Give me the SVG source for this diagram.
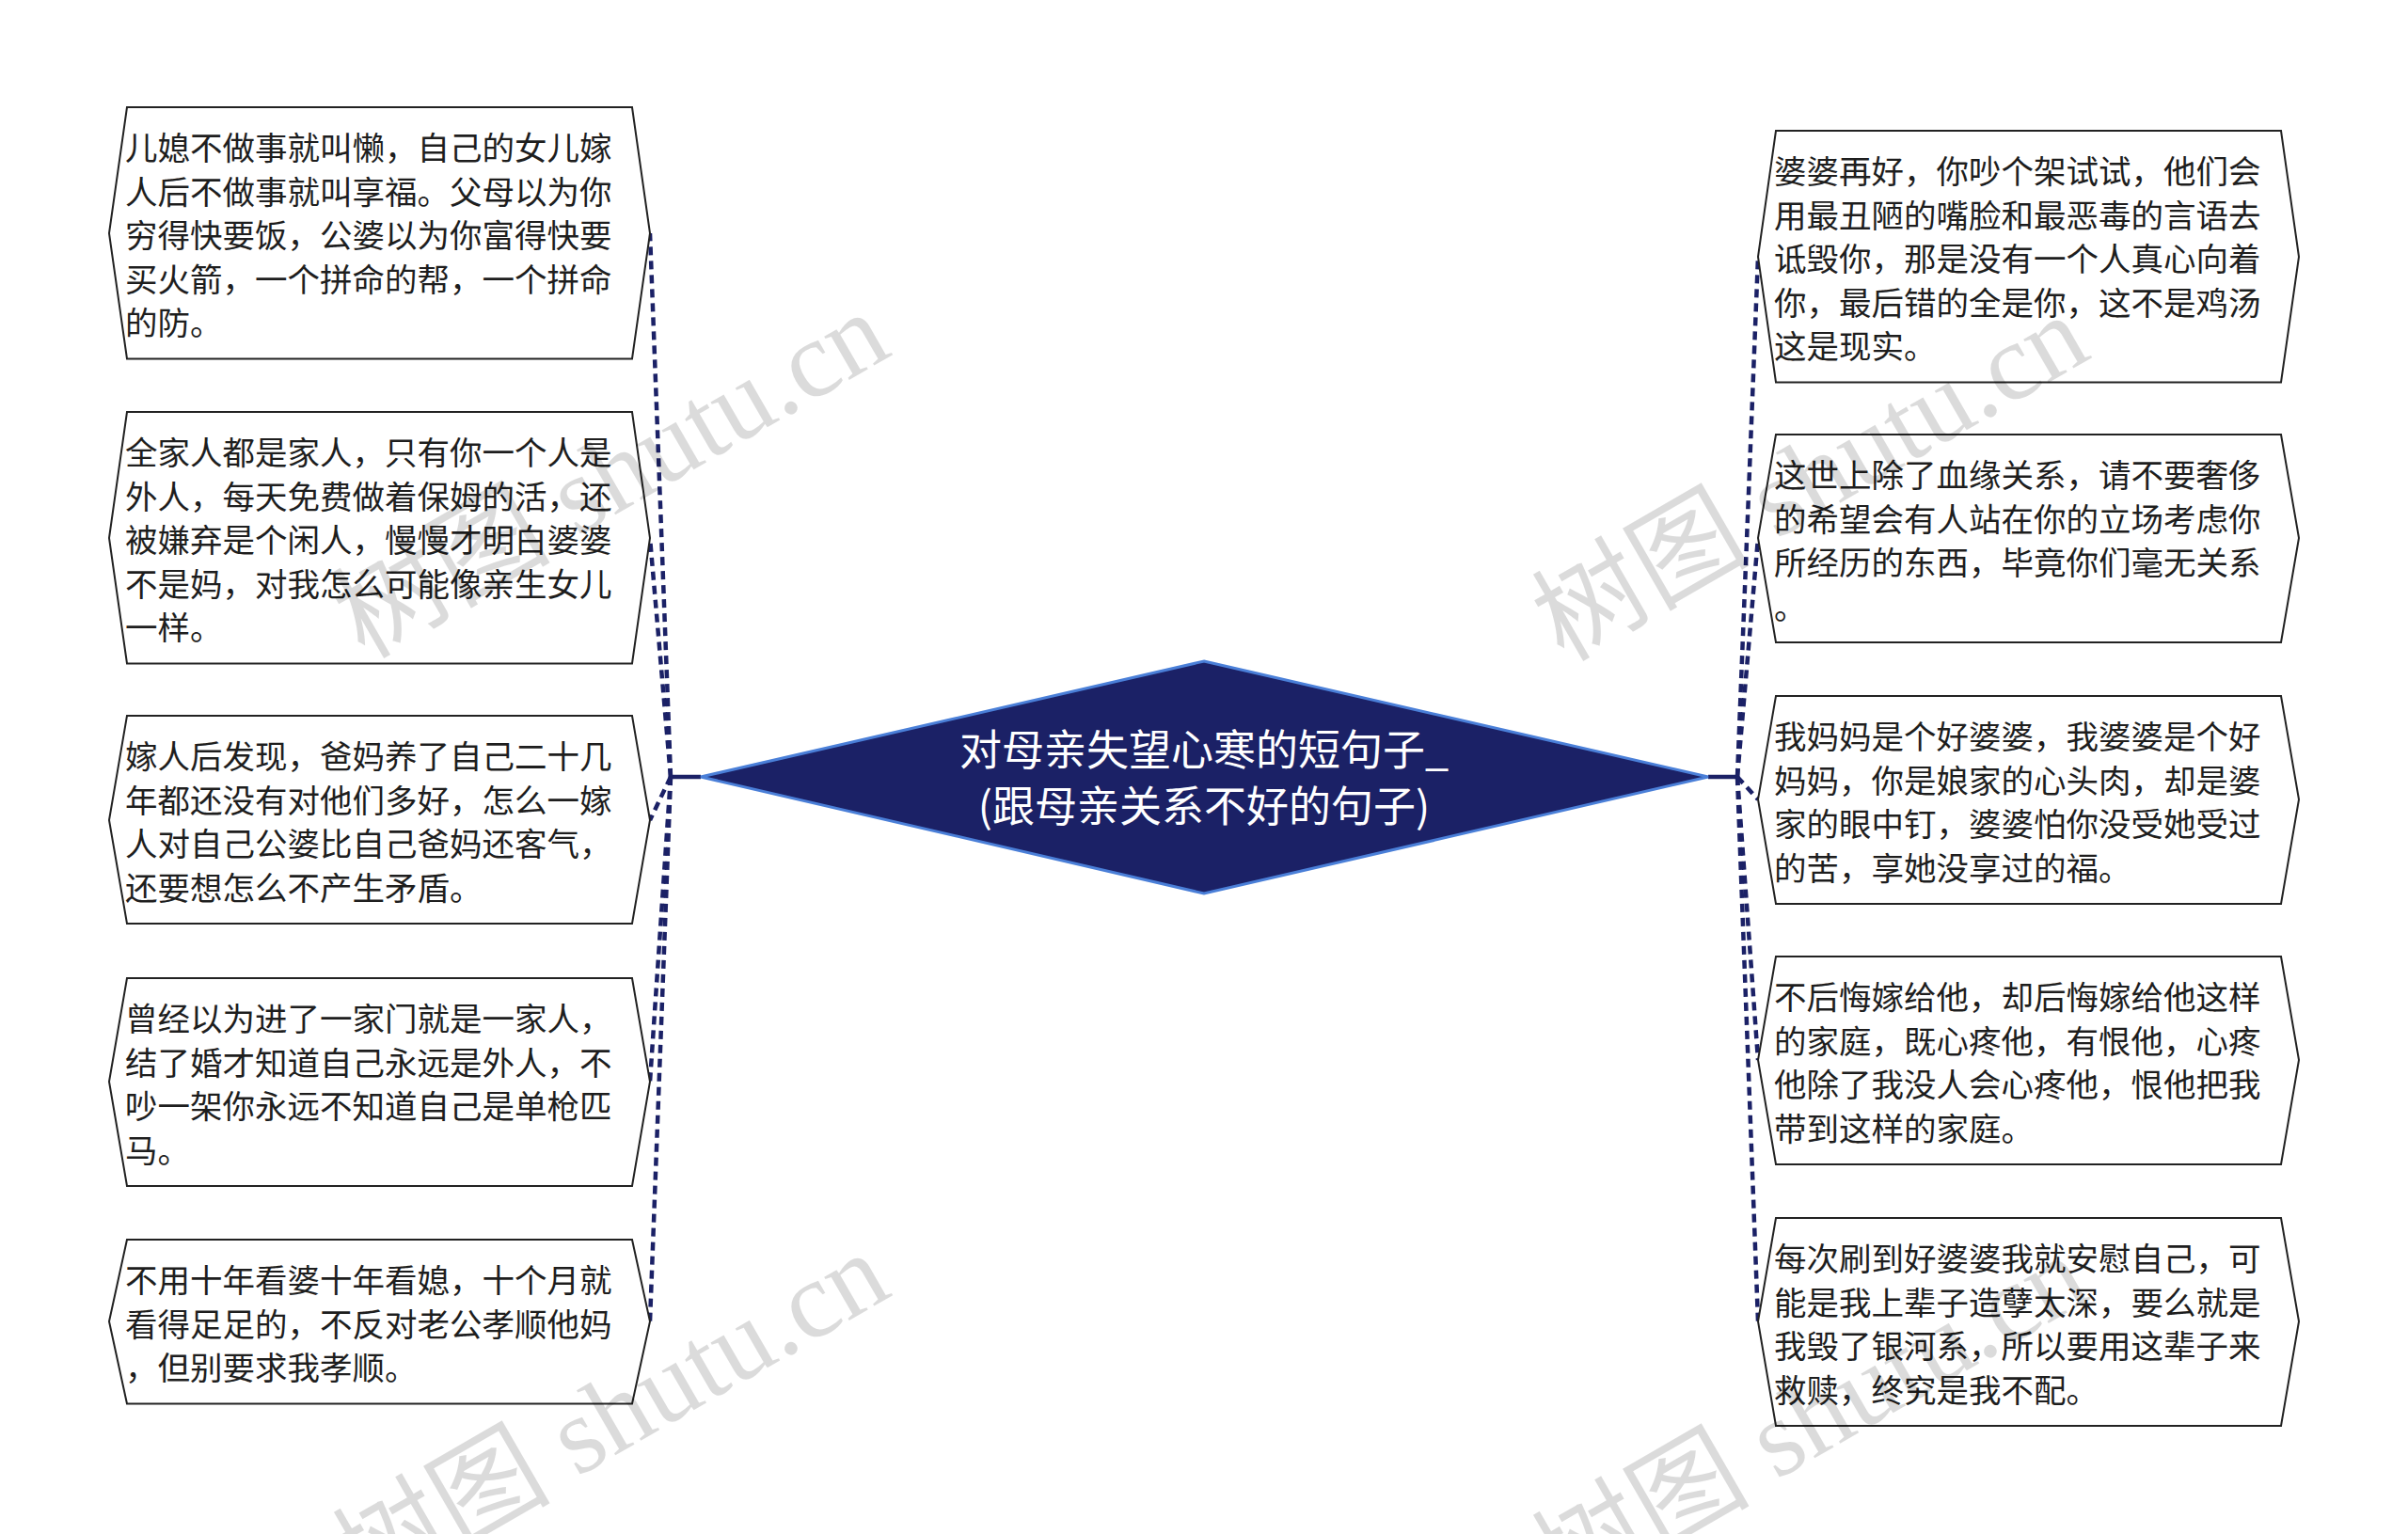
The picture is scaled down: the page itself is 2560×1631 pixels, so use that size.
<svg xmlns="http://www.w3.org/2000/svg" width="2560" height="1631" viewBox="0 0 2560 1631">
<style>
.node polygon{fill:#ffffff;stroke:#222222;stroke-width:2}
.t{font-family:"Noto Sans CJK SC","Noto Sans",sans-serif;font-size:34.5px;fill:#1e1e1e}
.title{font-family:"Noto Sans CJK SC","Noto Sans",sans-serif;font-size:45px;fill:#ffffff;text-anchor:middle}
.link{fill:none;stroke:#1b2166;stroke-width:4.5;stroke-dasharray:9 6}
.stub{fill:none;stroke:#1b2166;stroke-width:4.5}
.wm{font-family:"Liberation Serif","Noto Sans CJK SC",serif;font-size:116px;fill:#000000;fill-opacity:0.14;text-anchor:middle}
</style>
<rect width="2560" height="1631" fill="#ffffff"/>
<g id="connectors">
<path class="stub" d="M745 826 H713"/>
<path class="stub" d="M1816 826 H1847"/>
<path class="link" d="M713 826 L691 248"/>
<path class="link" d="M713 826 L691 572"/>
<path class="link" d="M713 826 L691 872"/>
<path class="link" d="M713 826 L691 1150"/>
<path class="link" d="M713 826 L691 1405"/>
<path class="link" d="M1847 826 L1869 273"/>
<path class="link" d="M1847 826 L1869 572"/>
<path class="link" d="M1847 826 L1869 850"/>
<path class="link" d="M1847 826 L1869 1127"/>
<path class="link" d="M1847 826 L1869 1405"/>
</g>
<g id="center">
<polygon points="1280,703 1816,826 1280,950 745,826" fill="#1b2166" stroke="#4a7fd8" stroke-width="3"/>
<text class="title"><tspan x="1280" y="814">对母亲失望心寒的短句子_</tspan><tspan x="1280" y="874">(跟母亲关系不好的句子)</tspan></text>
</g>
<g id="L1" class="node">
<polygon points="135,114 672,114 691,248 672,381.5 135,381.5 116,248"/>
<text class="t"><tspan x="133" y="170">儿媳不做事就叫懒，自己的女儿嫁</tspan><tspan x="133" y="216.5">人后不做事就叫享福。父母以为你</tspan><tspan x="133" y="263">穷得快要饭，公婆以为你富得快要</tspan><tspan x="133" y="309.5">买火箭，一个拼命的帮，一个拼命</tspan><tspan x="133" y="356">的防。</tspan></text>
</g>
<g id="L2" class="node">
<polygon points="135,438 672,438 691,572 672,705.5 135,705.5 116,572"/>
<text class="t"><tspan x="133" y="494">全家人都是家人，只有你一个人是</tspan><tspan x="133" y="540.5">外人，每天免费做着保姆的活，还</tspan><tspan x="133" y="587">被嫌弃是个闲人，慢慢才明白婆婆</tspan><tspan x="133" y="633.5">不是妈，对我怎么可能像亲生女儿</tspan><tspan x="133" y="680">一样。</tspan></text>
</g>
<g id="L3" class="node">
<polygon points="135,761 672,761 691,872 672,982 135,982 116,872"/>
<text class="t"><tspan x="133" y="817">嫁人后发现，爸妈养了自己二十几</tspan><tspan x="133" y="863.5">年都还没有对他们多好，怎么一嫁</tspan><tspan x="133" y="910">人对自己公婆比自己爸妈还客气，</tspan><tspan x="133" y="956.5">还要想怎么不产生矛盾。</tspan></text>
</g>
<g id="L4" class="node">
<polygon points="135,1040 672,1040 691,1150 672,1261 135,1261 116,1150"/>
<text class="t"><tspan x="133" y="1096">曾经以为进了一家门就是一家人，</tspan><tspan x="133" y="1142.5">结了婚才知道自己永远是外人，不</tspan><tspan x="133" y="1189">吵一架你永远不知道自己是单枪匹</tspan><tspan x="133" y="1235.5">马。</tspan></text>
</g>
<g id="L5" class="node">
<polygon points="135,1318 672,1318 691,1405 672,1492.5 135,1492.5 116,1405"/>
<text class="t"><tspan x="133" y="1374">不用十年看婆十年看媳，十个月就</tspan><tspan x="133" y="1420.5">看得足足的，不反对老公孝顺他妈</tspan><tspan x="133" y="1467">，但别要求我孝顺。</tspan></text>
</g>
<g id="R1" class="node">
<polygon points="1888,139 2425,139 2444,273 2425,406.5 1888,406.5 1869,273"/>
<text class="t"><tspan x="1886" y="195">婆婆再好，你吵个架试试，他们会</tspan><tspan x="1886" y="241.5">用最丑陋的嘴脸和最恶毒的言语去</tspan><tspan x="1886" y="288">诋毁你，那是没有一个人真心向着</tspan><tspan x="1886" y="334.5">你，最后错的全是你，这不是鸡汤</tspan><tspan x="1886" y="381">这是现实。</tspan></text>
</g>
<g id="R2" class="node">
<polygon points="1888,462 2425,462 2444,572 2425,683 1888,683 1869,572"/>
<text class="t"><tspan x="1886" y="518">这世上除了血缘关系，请不要奢侈</tspan><tspan x="1886" y="564.5">的希望会有人站在你的立场考虑你</tspan><tspan x="1886" y="611">所经历的东西，毕竟你们毫无关系</tspan><tspan x="1886" y="657.5">。</tspan></text>
</g>
<g id="R3" class="node">
<polygon points="1888,740 2425,740 2444,850 2425,961 1888,961 1869,850"/>
<text class="t"><tspan x="1886" y="796">我妈妈是个好婆婆，我婆婆是个好</tspan><tspan x="1886" y="842.5">妈妈，你是娘家的心头肉，却是婆</tspan><tspan x="1886" y="889">家的眼中钉，婆婆怕你没受她受过</tspan><tspan x="1886" y="935.5">的苦，享她没享过的福。</tspan></text>
</g>
<g id="R4" class="node">
<polygon points="1888,1017 2425,1017 2444,1127 2425,1238 1888,1238 1869,1127"/>
<text class="t"><tspan x="1886" y="1073">不后悔嫁给他，却后悔嫁给他这样</tspan><tspan x="1886" y="1119.5">的家庭，既心疼他，有恨他，心疼</tspan><tspan x="1886" y="1166">他除了我没人会心疼他，恨他把我</tspan><tspan x="1886" y="1212.5">带到这样的家庭。</tspan></text>
</g>
<g id="R5" class="node">
<polygon points="1888,1295 2425,1295 2444,1405 2425,1516 1888,1516 1869,1405"/>
<text class="t"><tspan x="1886" y="1351">每次刷到好婆婆我就安慰自己，可</tspan><tspan x="1886" y="1397.5">能是我上辈子造孽太深，要么就是</tspan><tspan x="1886" y="1444">我毁了银河系，所以要用这辈子来</tspan><tspan x="1886" y="1490.5">救赎，终究是我不配。</tspan></text>
</g>
<g id="watermarks">
<text class="wm" transform="translate(650,506) rotate(-30)" y="38">树图 shutu.cn</text>
<text class="wm" transform="translate(650,1506) rotate(-30)" y="38">树图 shutu.cn</text>
<text class="wm" transform="translate(1925,509) rotate(-30)" y="38">树图 shutu.cn</text>
<text class="wm" transform="translate(1925,1509) rotate(-30)" y="38">树图 shutu.cn</text>
</g>
</svg>
